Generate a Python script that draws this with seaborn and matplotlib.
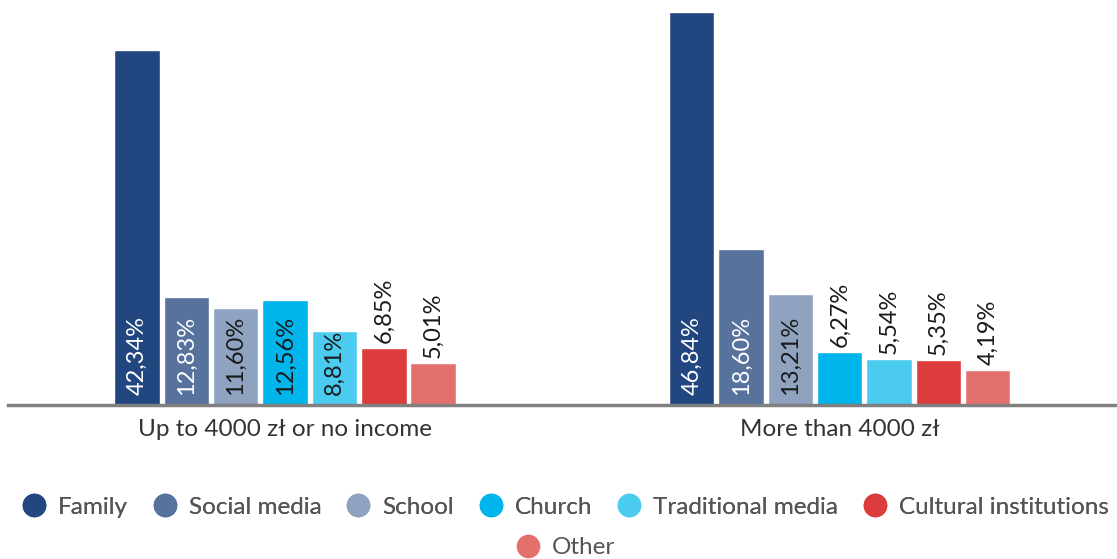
import numpy as np
import pandas as pd
import matplotlib
matplotlib.use("Agg")
import matplotlib.pyplot as plt
from matplotlib.lines import Line2D
import seaborn as sns

# --------------------  DATA  --------------------
groups = ["Up to 4000 zł or no income", "More than 4000 zł"]
sources = ["Family", "Social media", "School", "Church",
           "Traditional media", "Cultural institutions", "Other"]
low_income = [42.34, 12.83, 11.60, 12.56, 8.81, 6.85, 5.01]
high_income = [46.84, 18.60, 13.21, 6.27, 5.54, 5.35, 4.19]
colors = ["#22467f", "#58729e", "#8fa3c0", "#00b5ec",
          "#4ccbf0", "#dc3c3c", "#e4706e"]
white_label = ["Family", "Social media"]

df = pd.DataFrame({
    "group": [groups[0]] * len(sources) + [groups[1]] * len(sources),
    "source": sources * 2,
    "value": low_income + high_income,
})

# --------------------  PLOT  --------------------
sns.set_style("white")
plt.rcParams["font.family"] = ["Lato", "DejaVu Sans"]

fig = plt.figure(figsize=(11.17, 5.59), dpi=100)
ax = fig.add_axes([0.007, 0.2755, 0.993, 0.7245])

sns.barplot(data=df, x="group", y="value", hue="source",
            hue_order=sources, palette=colors, width=0.623, gap=0.08,
            saturation=1, legend=False, ax=ax)

ax.set_xlim(-0.5, 1.5)
ax.set_ylim(0, 48.3)

# value labels, rotated
for src, cont in zip(sources, ax.containers):
    for bar in cont:
        v = bar.get_height()
        x = bar.get_x() + bar.get_width() / 2
        txt = f"{v:.2f}%".replace(".", ",")
        if v >= 8:
            c = "white" if src in white_label else "#1a1a1a"
            ax.text(x, 1.2, txt, rotation=90, ha="center", va="bottom",
                    fontsize=17, color=c)
        else:
            ax.text(x, v + 0.6, txt, rotation=90, ha="center", va="bottom",
                    fontsize=17, color="#1a1a1a")

for s in ["top", "right", "left"]:
    ax.spines[s].set_visible(False)
ax.spines["bottom"].set_color("#808080")
ax.spines["bottom"].set_linewidth(2.5)
ax.set_yticks([])
ax.set_xlabel("")
ax.set_ylabel("")
ax.tick_params(axis="x", length=0, pad=10, labelsize=17.5, labelcolor="#333333")

# legend: 6 entries in first row, "Other" centered below
handles = [Line2D([0], [0], marker="o", linestyle="", markersize=16,
                  markerfacecolor=c, markeredgecolor=c) for c in colors]
leg1 = fig.legend(handles[:6], sources[:6], loc="center", ncol=6,
                  bbox_to_anchor=(0.506, 0.093), frameon=False, fontsize=17.5,
                  handlelength=1.0, handletextpad=0.5, columnspacing=1.0,
                  labelcolor="#555555")
fig.legend(handles[6:], sources[6:], loc="center", ncol=1,
           bbox_to_anchor=(0.506, 0.02), frameon=False, fontsize=17.5,
           handlelength=1.0, handletextpad=0.5, labelcolor="#555555")
fig.add_artist(leg1)

plt.savefig("out.png", dpi=100)
